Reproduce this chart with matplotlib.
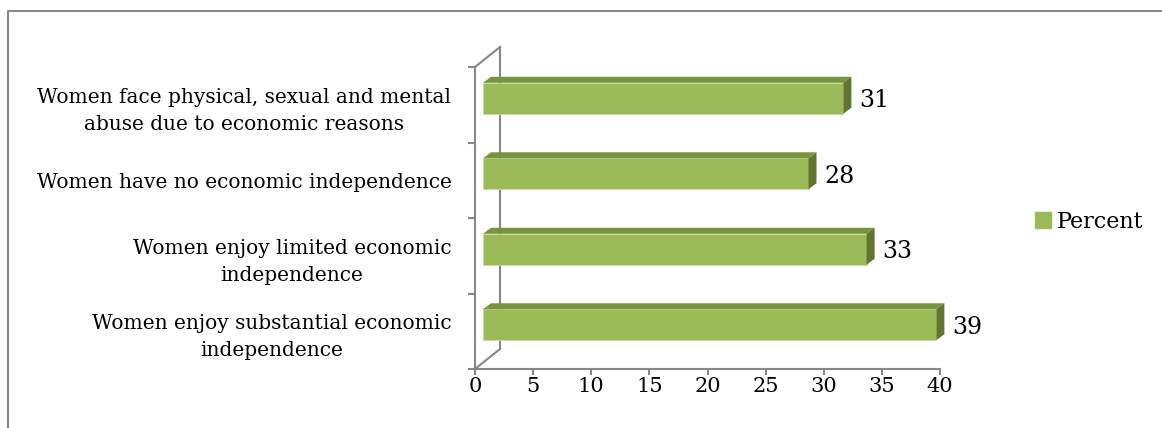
import matplotlib
matplotlib.use("Agg")
import matplotlib.pyplot as plt
from matplotlib.patches import Polygon, Patch
from matplotlib.lines import Line2D
from matplotlib.transforms import ScaledTranslation, IdentityTransform

# data, bottom to top
categories = [
    "Women enjoy substantial economic\nindependence",
    "Women enjoy limited economic\nindependence",
    "Women have no economic independence",
    "Women face physical, sexual and mental\nabuse due to economic reasons",
]
percent = [39, 33, 28, 31]
x_ticks = [0, 5, 10, 15, 20, 25, 30, 35, 40]
series_name = "Percent"

FRONT = "#9BBB59"
TOP = "#77933C"
SIDE = "#5F7530"
AXIS = "#878787"

plt.rcParams["font.family"] = ["DejaVu Serif"]
W, H, DPI = 1162, 428, 100
fig = plt.figure(figsize=(W / DPI, H / DPI), dpi=DPI)
ax = fig.add_axes([475 / W, 59 / H, 465 / W, 302 / H])
ax.set_xlim(0, 40)
ax.set_ylim(-0.5, len(categories) - 0.5)

ypos = list(range(len(categories)))
bar_h = 0.41
shift = ScaledTranslation(8 / DPI, 6.5 / DPI, fig.dpi_scale_trans)
wall = ScaledTranslation(25 / DPI, 20 / DPI, fig.dpi_scale_trans)

# back wall of the 3d box
ax.plot([0, 0], [-0.5, len(categories) - 0.5], transform=ax.transData + wall,
        color=AXIS, lw=1.5, clip_on=False, zorder=1)
for yy in [-0.5, len(categories) - 0.5]:
    p0 = ax.transData.transform((0, yy))
    p1 = (ax.transData + wall).transform((0, yy))
    ax.add_line(Line2D([p0[0], p1[0]], [p0[1], p1[1]], transform=IdentityTransform(),
                       color=AXIS, lw=1.5, clip_on=False, zorder=1))

bars = ax.barh(ypos, percent, height=bar_h, color=FRONT, edgecolor="#C9DBA5",
               lw=0.6, transform=ax.transData + shift, zorder=3, clip_on=False)
ax.set_xlim(0, 40)
ax.set_ylim(-0.5, len(categories) - 0.5)

dx, dy = 8, 6
for y, v in zip(ypos, percent):
    x0, y0 = (ax.transData + shift).transform((0, y - bar_h / 2))
    x1, y1 = (ax.transData + shift).transform((v, y + bar_h / 2))
    top = Polygon([(x0, y1), (x1, y1), (x1 + dx, y1 + dy), (x0 + dx, y1 + dy)],
                  closed=True, facecolor=TOP, edgecolor="none",
                  transform=IdentityTransform(), clip_on=False, zorder=3)
    side = Polygon([(x1, y0), (x1 + dx, y0 + dy), (x1 + dx, y1 + dy), (x1, y1)],
                   closed=True, facecolor=SIDE, edgecolor="none",
                   transform=IdentityTransform(), clip_on=False, zorder=3)
    ax.add_patch(top)
    ax.add_patch(side)
    ax.annotate(str(v), xy=(v, y), xytext=(24, 4), textcoords="offset pixels",
                ha="left", va="center", fontsize=17, color="black")

for s in ["top", "right"]:
    ax.spines[s].set_visible(False)
for s in ["left", "bottom"]:
    ax.spines[s].set_color(AXIS)
    ax.spines[s].set_linewidth(1.5)

ax.set_xticks(x_ticks)
ax.tick_params(axis="x", length=4, width=1.5, color=AXIS, pad=2, labelsize=15)
ax.set_yticks(ypos, categories)
ax.set_yticks([y - 0.5 for y in ypos] + [len(categories) - 0.5], minor=True)
ax.tick_params(axis="y", which="major", length=0, pad=17, labelsize=14.5)
ax.tick_params(axis="y", which="minor", length=5, width=1.5, color=AXIS)
for t in ax.get_yticklabels():
    t.set_multialignment("center")
    t.set_linespacing(1.55)

ax.legend(handles=[Patch(color=FRONT, label=series_name)], loc="center left",
          bbox_to_anchor=(1035 / W, 1 - 222 / H), bbox_transform=fig.transFigure,
          frameon=False, borderpad=0, borderaxespad=0, handlelength=0.7,
          handleheight=0.7, handletextpad=0.3, fontsize=16)

# outer chart frame
fig.add_artist(Line2D([8 / W, 8 / W, 1], [0, 1 - 11 / H, 1 - 11 / H],
                      color="#888888", lw=1.5))

fig.savefig("out.png", dpi=DPI)
